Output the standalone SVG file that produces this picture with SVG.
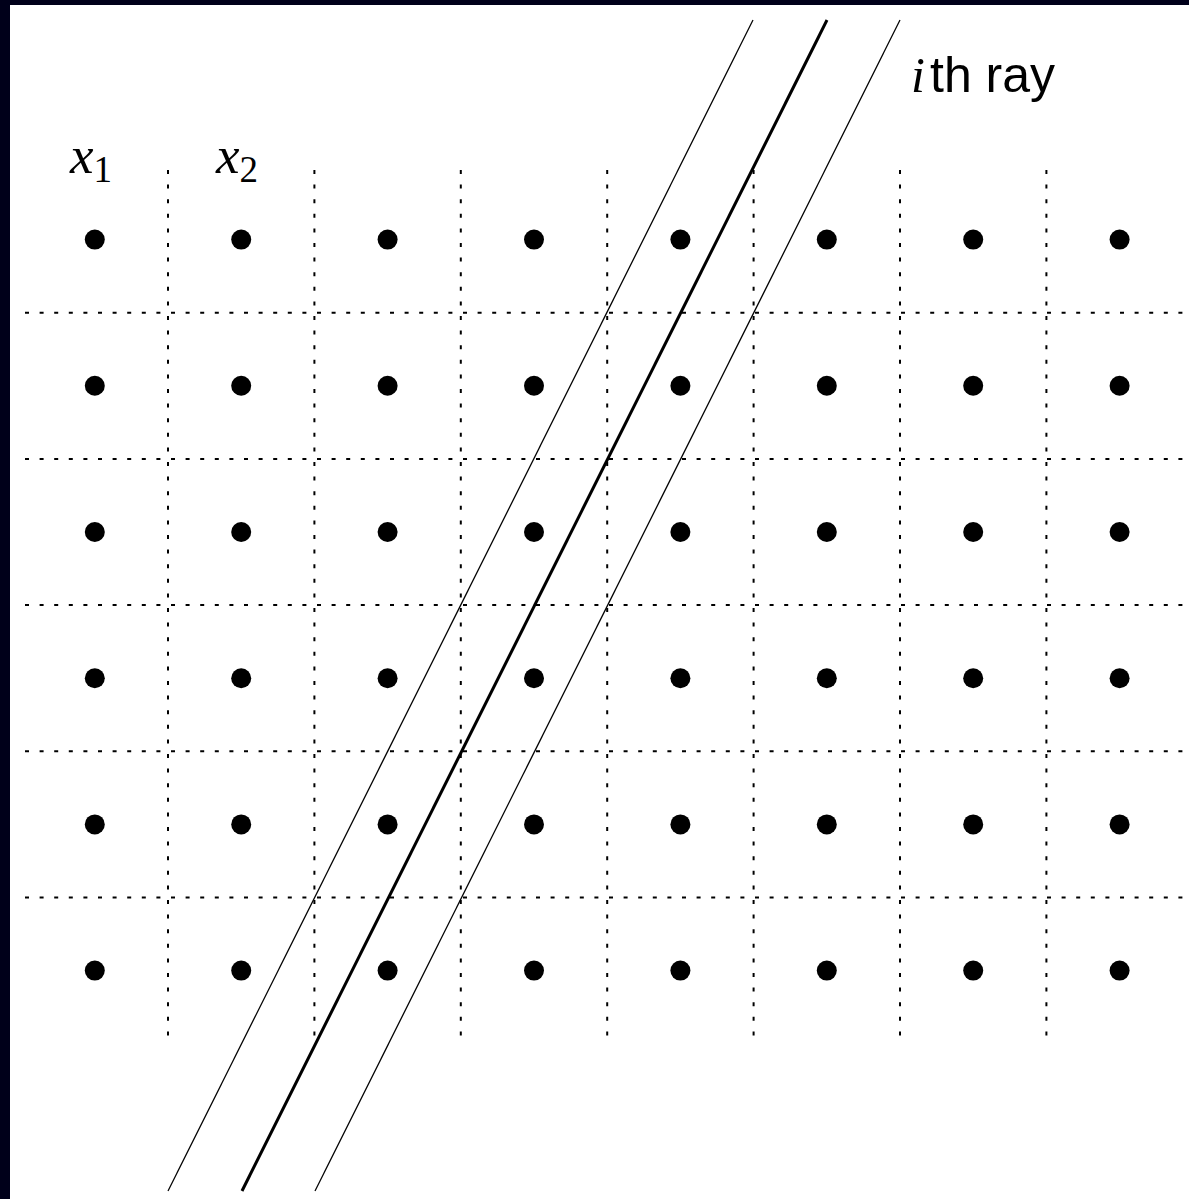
<svg xmlns="http://www.w3.org/2000/svg" width="1189" height="1199" viewBox="0 0 1189 1199">
  <style>
    .dot { fill: #000; }
    .grid { stroke: #000; stroke-width: 2; stroke-dasharray: 4 10.6; fill: none; }
    .ray { stroke: #000; fill: none; stroke-width: 1.3; }
    .ray.main { stroke-width: 3; }
    .serif { font-family: "Liberation Serif", "Times New Roman", serif; font-style: italic; }
    .sub { font-family: "Liberation Serif", "Times New Roman", serif; font-style: normal; }
    .sans { font-family: "Liberation Sans", Arial, sans-serif; }
  </style>
  <rect x="0" y="0" width="1189" height="1199" fill="#00001a"/>
  <rect x="10" y="5" width="1179" height="1194" fill="#ffffff"/>

  <g id="grid-lines">
    <line class="grid" x1="168" y1="170" x2="168" y2="1038"/>
    <line class="grid" x1="314.4" y1="170" x2="314.4" y2="1038"/>
    <line class="grid" x1="460.8" y1="170" x2="460.8" y2="1038"/>
    <line class="grid" x1="607.2" y1="170" x2="607.2" y2="1038"/>
    <line class="grid" x1="753.6" y1="170" x2="753.6" y2="1038"/>
    <line class="grid" x1="900" y1="170" x2="900" y2="1038"/>
    <line class="grid" x1="1046.4" y1="170" x2="1046.4" y2="1038"/>
    <line class="grid" x1="25" y1="312.7" x2="1189" y2="312.7"/>
    <line class="grid" x1="25" y1="458.9" x2="1189" y2="458.9"/>
    <line class="grid" x1="25" y1="605.1" x2="1189" y2="605.1"/>
    <line class="grid" x1="25" y1="751.3" x2="1189" y2="751.3"/>
    <line class="grid" x1="25" y1="897.5" x2="1189" y2="897.5"/>
  </g>

  <g id="pixels">
    <g id="row1">
      <circle class="dot" cx="94.8" cy="239.6" r="10"/><circle class="dot" cx="241.2" cy="239.6" r="10"/><circle class="dot" cx="387.6" cy="239.6" r="10"/><circle class="dot" cx="534" cy="239.6" r="10"/><circle class="dot" cx="680.4" cy="239.6" r="10"/><circle class="dot" cx="826.8" cy="239.6" r="10"/><circle class="dot" cx="973.2" cy="239.6" r="10"/><circle class="dot" cx="1119.6" cy="239.6" r="10"/>
    </g>
    <g id="row2">
      <circle class="dot" cx="94.8" cy="385.8" r="10"/><circle class="dot" cx="241.2" cy="385.8" r="10"/><circle class="dot" cx="387.6" cy="385.8" r="10"/><circle class="dot" cx="534" cy="385.8" r="10"/><circle class="dot" cx="680.4" cy="385.8" r="10"/><circle class="dot" cx="826.8" cy="385.8" r="10"/><circle class="dot" cx="973.2" cy="385.8" r="10"/><circle class="dot" cx="1119.6" cy="385.8" r="10"/>
    </g>
    <g id="row3">
      <circle class="dot" cx="94.8" cy="532" r="10"/><circle class="dot" cx="241.2" cy="532" r="10"/><circle class="dot" cx="387.6" cy="532" r="10"/><circle class="dot" cx="534" cy="532" r="10"/><circle class="dot" cx="680.4" cy="532" r="10"/><circle class="dot" cx="826.8" cy="532" r="10"/><circle class="dot" cx="973.2" cy="532" r="10"/><circle class="dot" cx="1119.6" cy="532" r="10"/>
    </g>
    <g id="row4">
      <circle class="dot" cx="94.8" cy="678.2" r="10"/><circle class="dot" cx="241.2" cy="678.2" r="10"/><circle class="dot" cx="387.6" cy="678.2" r="10"/><circle class="dot" cx="534" cy="678.2" r="10"/><circle class="dot" cx="680.4" cy="678.2" r="10"/><circle class="dot" cx="826.8" cy="678.2" r="10"/><circle class="dot" cx="973.2" cy="678.2" r="10"/><circle class="dot" cx="1119.6" cy="678.2" r="10"/>
    </g>
    <g id="row5">
      <circle class="dot" cx="94.8" cy="824.4" r="10"/><circle class="dot" cx="241.2" cy="824.4" r="10"/><circle class="dot" cx="387.6" cy="824.4" r="10"/><circle class="dot" cx="534" cy="824.4" r="10"/><circle class="dot" cx="680.4" cy="824.4" r="10"/><circle class="dot" cx="826.8" cy="824.4" r="10"/><circle class="dot" cx="973.2" cy="824.4" r="10"/><circle class="dot" cx="1119.6" cy="824.4" r="10"/>
    </g>
    <g id="row6">
      <circle class="dot" cx="94.8" cy="970.6" r="10"/><circle class="dot" cx="241.2" cy="970.6" r="10"/><circle class="dot" cx="387.6" cy="970.6" r="10"/><circle class="dot" cx="534" cy="970.6" r="10"/><circle class="dot" cx="680.4" cy="970.6" r="10"/><circle class="dot" cx="826.8" cy="970.6" r="10"/><circle class="dot" cx="973.2" cy="970.6" r="10"/><circle class="dot" cx="1119.6" cy="970.6" r="10"/>
    </g>
  </g>

  <g id="ray">
    <line class="ray" x1="753" y1="20" x2="168" y2="1191"/>
    <line class="ray main" x1="827" y1="20" x2="242" y2="1191"/>
    <line class="ray" x1="900" y1="20" x2="315" y2="1191"/>
  </g>

  <g id="labels">
    <text id="label-x1" x="70" y="173" font-size="53"><tspan class="serif">x</tspan><tspan class="sub" font-size="37" dy="9">1</tspan></text>
    <text id="label-x2" x="216" y="173" font-size="53"><tspan class="serif">x</tspan><tspan class="sub" font-size="37" dy="9">2</tspan></text>
    <text id="label-ray" x="911" y="92" font-size="50"><tspan class="serif">i</tspan><tspan class="sans" x="930">th ray</tspan></text>
  </g>
</svg>
